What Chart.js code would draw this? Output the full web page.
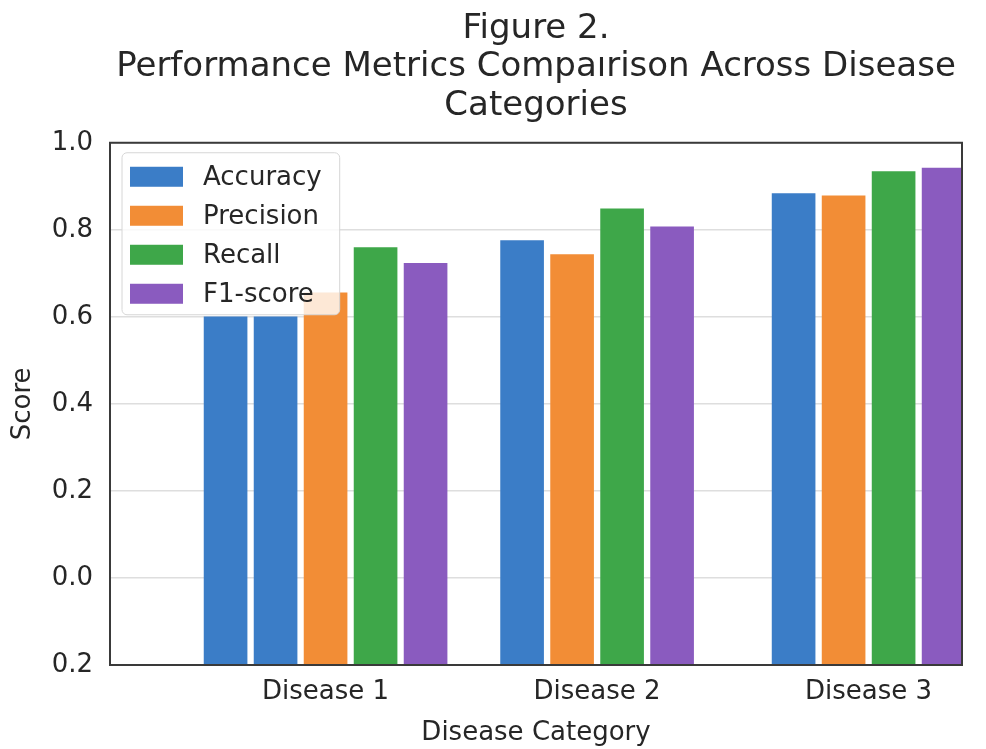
<!DOCTYPE html>
<html>
<head>
<meta charset="utf-8">
<script src="https://cdn.jsdelivr.net/npm/chart.js@4.4.1/dist/chart.umd.min.js"></script>
<style>
html,body{margin:0;padding:0;background:#ffffff;}
#wrap{width:986px;height:749px;}
</style>
</head>
<body>
<div id="wrap"><canvas id="c" width="986" height="749"></canvas></div>
<script>
const categories = ['Disease 1', 'Disease 2', 'Disease 3'];
const accuracy = [0.600, 0.775, 0.883];
const accuracyRepeat = [0.600, null, null];
const precision = [0.655, 0.743, 0.878];
const recall = [0.759, 0.848, 0.934];
const f1score = [0.723, 0.807, 0.942];
const yTickValues = [-0.2, 0.0, 0.2, 0.4, 0.6, 0.8, 1.0];
const yTickLabels = ['0.2', '0.0', '0.2', '0.4', '0.6', '0.8', '1.0'];
const titleLines = ['Figure 2.', 'Performance Metrics Compaırison Across Disease', 'Categories'];

const FAMILY = "'DejaVu Sans', 'Noto Sans', sans-serif";
const TEXT = '#262626';
const COLORS = { blue: '#3b7dc7', orange: '#f28d36', green: '#3ea749', purple: '#8a5bbf' };

const toPts = arr => arr.map((v, i) => ({ x: i, y: v }));

const framePlugin = {
  id: 'frame',
  afterDatasetsDraw(chart) {
    const { ctx, chartArea: a } = chart;
    ctx.save();
    ctx.strokeStyle = '#3a3a3a';
    ctx.lineWidth = 2;
    ctx.strokeRect(a.left, a.top, a.right - a.left, a.bottom - a.top);
    ctx.restore();
  }
};

const legendPlugin = {
  id: 'legendBox',
  afterDatasetsDraw(chart) {
    const { ctx, chartArea: a } = chart;
    const items = chart.data.datasets.filter(d => !d.hideInLegend);
    ctx.save();
    ctx.font = "26px " + FAMILY;
    const x0 = a.left + 12, y0 = a.top + 10;
    const rowH = 39, swW = 53, swH = 20, firstRow = 24;
    const textW = Math.max(...items.map(d => ctx.measureText(d.label).width));
    const w = 8 + swW + 20 + textW + 18;
    const h = firstRow + rowH * (items.length - 1) + 21;
    const r = 5;
    ctx.beginPath();
    ctx.moveTo(x0 + r, y0);
    ctx.arcTo(x0 + w, y0, x0 + w, y0 + h, r);
    ctx.arcTo(x0 + w, y0 + h, x0, y0 + h, r);
    ctx.arcTo(x0, y0 + h, x0, y0, r);
    ctx.arcTo(x0, y0, x0 + w, y0, r);
    ctx.closePath();
    ctx.fillStyle = 'rgba(255,255,255,0.8)';
    ctx.fill();
    ctx.strokeStyle = '#d6d6d6';
    ctx.lineWidth = 1;
    ctx.stroke();
    ctx.textBaseline = 'middle';
    ctx.textAlign = 'left';
    items.forEach((d, i) => {
      const cy = y0 + firstRow + i * rowH;
      ctx.fillStyle = d.backgroundColor;
      ctx.fillRect(x0 + 8, cy - swH / 2, swW, swH);
      ctx.fillStyle = TEXT;
      ctx.fillText(d.label, x0 + 8 + swW + 20, cy + 1);
    });
    ctx.restore();
  }
};

const datasets = [
  { label: 'Accuracy', data: toPts(accuracy), backgroundColor: COLORS.blue },
  { label: 'Accuracy', data: toPts(accuracyRepeat), backgroundColor: COLORS.blue, hideInLegend: true },
  { label: 'Precision', data: toPts(precision), backgroundColor: COLORS.orange },
  { label: 'Recall', data: toPts(recall), backgroundColor: COLORS.green },
  { label: 'F1-score', data: toPts(f1score), backgroundColor: COLORS.purple }
].map(d => Object.assign(d, { base: -0.2, borderWidth: 0 }));

new Chart(document.getElementById('c'), {
  type: 'bar',
  data: { datasets },
  options: {
    responsive: false,
    animation: false,
    layout: { padding: { left: 0, right: 24, top: 0, bottom: 0 } },
    datasets: { bar: { barThickness: 50, maxBarThickness: 43, skipNull: true, base: -0.2 } },
    plugins: {
      legend: { display: false },
      tooltip: { enabled: false },
      title: {
        display: true,
        text: titleLines,
        fullSize: false,
        color: TEXT,
        font: { family: FAMILY, size: 34, weight: 'normal', lineHeight: 1.13 },
        padding: { top: 10, bottom: 17.5 }
      }
    },
    scales: {
      x: {
        type: 'linear',
        min: -0.794,
        max: 2.344,
        offset: false,
        afterBuildTicks: s => { s.ticks = categories.map((c, i) => ({ value: i })); },
        afterFit: s => { s.height = 84; },
        ticks: {
          callback: (v, i) => categories[i],
          font: { family: FAMILY, size: 26 },
          color: TEXT,
          padding: 12,
          maxRotation: 0,
          autoSkip: false
        },
        grid: { display: false, drawTicks: false, offset: false },
        border: { display: false },
        title: {
          display: true,
          text: 'Disease Category',
          color: TEXT,
          font: { family: FAMILY, size: 26 },
          padding: { top: 0, bottom: 0 }
        }
      },
      y: {
        min: -0.2,
        max: 1.0,
        afterBuildTicks: s => { s.ticks = yTickValues.map(v => ({ value: v })); },
        afterFit: s => { s.width = 110; },
        ticks: {
          callback: (v, i) => yTickLabels[i],
          font: { family: FAMILY, size: 26 },
          color: TEXT,
          padding: 17
        },
        grid: { color: '#dedede', lineWidth: 1.5, drawTicks: false },
        border: { display: false },
        title: {
          display: true,
          text: 'Score',
          color: TEXT,
          font: { family: FAMILY, size: 26 },
          padding: { top: 8, bottom: 0 }
        }
      }
    }
  },
  plugins: [framePlugin, legendPlugin]
});
</script>
</body>
</html>
